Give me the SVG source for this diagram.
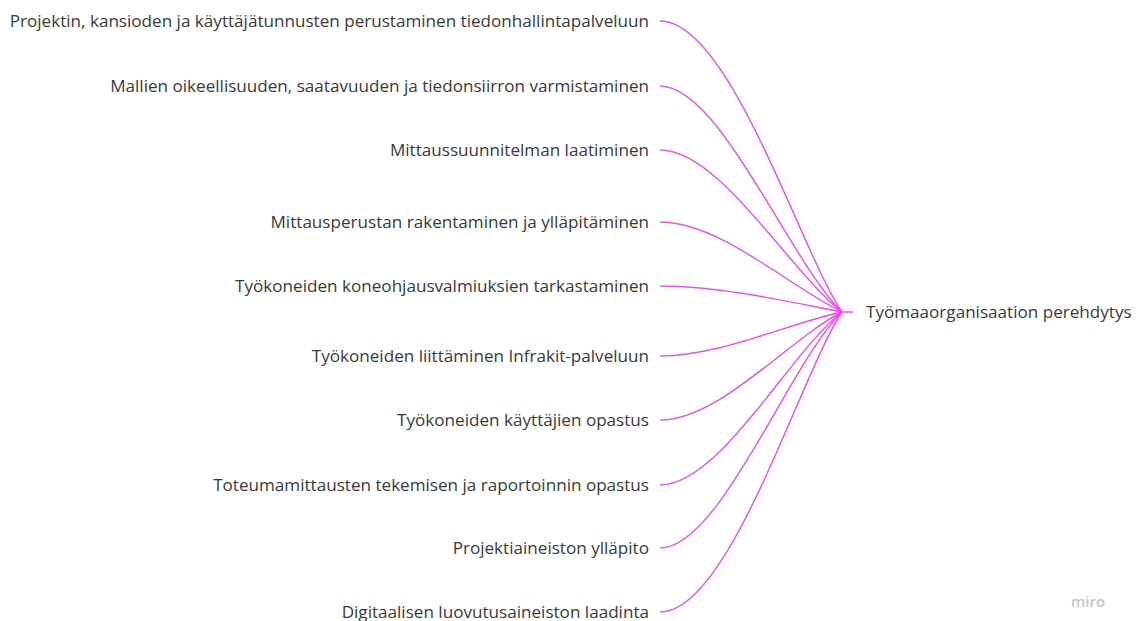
<svg xmlns="http://www.w3.org/2000/svg" width="1136" height="621" viewBox="0 0 1136 621">
<defs>
<linearGradient id="g" gradientUnits="userSpaceOnUse" x1="660" y1="0" x2="850" y2="0">
<stop offset="0" stop-color="#da5fe0"/>
<stop offset="1" stop-color="#f545ee"/>
</linearGradient>
<style>
.t{font-family:"Open Sans","Noto Sans",sans-serif;font-size:17.1px;fill:#3a3a3a;}
.l{font-family:"Open Sans","Noto Sans",sans-serif;font-size:17.1px;fill:#3a3a3a;text-anchor:end;}
.c{fill:none;stroke:url(#g);stroke-width:1.4;}
.m{font-family:"Open Sans","Noto Sans",sans-serif;font-size:15px;font-weight:600;fill:#c4c4c4;}
</style>
</defs>
<rect width="1136" height="621" fill="#fff"/>
<g id="connectors">
<path class="c" d="M660,21 C730,21 800,250 842,312"/>
<path class="c" d="M660,86 C720,86 790,262 842,312"/>
<path class="c" d="M660,150 C720,150 790,272 842,312"/>
<path class="c" d="M660,222 C720,222 790,287 842,312"/>
<path class="c" d="M660,286 C720,286 790,302 842,312"/>
<path class="c" d="M660,356 C720,356 790,323 842,312"/>
<path class="c" d="M660,420 C720,420 790,338 842,312"/>
<path class="c" d="M660,485 C720,485 790,352 842,312"/>
<path class="c" d="M660,548 C720,548 790,362 842,312"/>
<path class="c" d="M660,612 C730,612 800,375 842,312"/>
<path class="c" d="M840,312 L853,312"/>
</g>
<g id="n1"><text class="l" x="649" y="27">Projektin, kansioden ja käyttäjätunnusten perustaminen tiedonhallintapalveluun</text></g>
<g id="n2"><text class="l" x="649" y="92">Mallien oikeellisuuden, saatavuuden ja tiedonsiirron varmistaminen</text></g>
<g id="n3"><text class="l" x="649" y="156">Mittaussuunnitelman laatiminen</text></g>
<g id="n4"><text class="l" x="649" y="228">Mittausperustan rakentaminen ja ylläpitäminen</text></g>
<g id="n5"><text class="l" x="649" y="292">Työkoneiden koneohjausvalmiuksien tarkastaminen</text></g>
<g id="n6"><text class="l" x="649" y="362">Työkoneiden liittäminen Infrakit-palveluun</text></g>
<g id="n7"><text class="l" x="649" y="426">Työkoneiden käyttäjien opastus</text></g>
<g id="n8"><text class="l" x="649" y="491">Toteumamittausten tekemisen ja raportoinnin opastus</text></g>
<g id="n9"><text class="l" x="649" y="554">Projektiaineiston ylläpito</text></g>
<g id="n10"><text class="l" x="649" y="618">Digitaalisen luovutusaineiston laadinta</text></g>
<g id="hub"><text class="t" x="866" y="318">Työmaaorganisaation perehdytys</text></g>
<text class="m" x="1071" y="607">miro</text>
</svg>
